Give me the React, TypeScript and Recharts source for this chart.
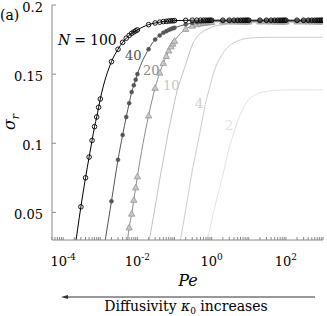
import React from 'react'
import { LineChart, Line, XAxis, YAxis } from 'recharts'

// Pe grid (k x 10^m)
const pe = [
  0.0002, 0.0003, 0.0004, 0.0005, 0.0006, 0.0007, 0.0008, 0.0009,
  0.001, 0.002, 0.003, 0.004, 0.005, 0.006, 0.007, 0.008, 0.009,
  0.01, 0.02, 0.03, 0.04, 0.05, 0.06, 0.07, 0.08, 0.09,
  0.1, 0.2, 0.3, 0.4, 0.5, 0.6, 0.7, 0.8, 0.9,
  1, 2, 3, 4, 5, 6, 7, 8, 9,
  10, 20, 30, 40, 50, 60, 70, 80, 90,
  100, 200, 300, 400, 500, 600, 700, 800, 900,
  1000,
]

const sigmaN100 = [
  0.021, 0.054, 0.075, 0.09, 0.102, 0.112, 0.119, 0.126,
  0.132, 0.159, 0.168, 0.173, 0.176, 0.178, 0.1795, 0.1805, 0.1813,
  0.182, 0.1858, 0.187, 0.1876, 0.188, 0.1882, 0.1884, 0.1885, 0.1886,
  0.1887, 0.1889, 0.189, 0.189, 0.189, 0.189, 0.189, 0.189, 0.189,
  0.189, 0.189, 0.189, 0.189, 0.189, 0.189, 0.189, 0.189, 0.189,
  0.189, 0.189, 0.189, 0.189, 0.189, 0.189, 0.189, 0.189, 0.189,
  0.189, 0.189, 0.189, 0.189, 0.189, 0.189, 0.189, 0.189, 0.189,
  0.189,
]

const sigmaN40 = [
  null, null, null, null, null, null, null, null,
  0.008, 0.058, 0.088, 0.106, 0.119, 0.129, 0.137, 0.142, 0.146,
  0.15, 0.168, 0.175, 0.178, 0.18, 0.181, 0.182, 0.1826, 0.1831,
  0.1835, 0.186, 0.187, 0.1875, 0.1878, 0.188, 0.1882, 0.1883, 0.1884,
  0.1885, 0.1885, 0.1885, 0.1885, 0.1885, 0.1885, 0.1885, 0.1885, 0.1885,
  0.1885, 0.1885, 0.1885, 0.1885, 0.1885, 0.1885, 0.1885, 0.1885, 0.1885,
  0.1885, 0.1885, 0.1885, 0.1885, 0.1885, 0.1885, 0.1885, 0.1885, 0.1885,
  0.1885,
]

const sigmaN20 = [
  null, null, null, null, null, null, null, null,
  null, null, null, null, 0.022, 0.039, 0.049, 0.059, 0.068,
  0.076, 0.12, 0.14, 0.151, 0.158, 0.163, 0.167, 0.17, 0.172,
  0.174, 0.1826, 0.185, 0.186, 0.1865, 0.187, 0.1872, 0.1874, 0.1876,
  0.1877, 0.188, 0.188, 0.188, 0.188, 0.188, 0.188, 0.188, 0.188,
  0.188, 0.188, 0.188, 0.188, 0.188, 0.188, 0.188, 0.188, 0.188,
  0.188, 0.188, 0.188, 0.188, 0.188, 0.188, 0.188, 0.188, 0.188,
  0.188,
]

const sigmaN10 = [
  null, null, null, null, null, null, null, null,
  null, null, null, null, null, null, null, null, null,
  null, 0.027, 0.054, 0.074, 0.088, 0.1, 0.11, 0.117, 0.124,
  0.13, 0.157, 0.171, 0.177, 0.1795, 0.181, 0.182, 0.1828, 0.1834,
  0.184, 0.1858, 0.1866, 0.187, 0.1872, 0.1873, 0.1874, 0.1874, 0.1875,
  0.1875, 0.1875, 0.1875, 0.1875, 0.1875, 0.1875, 0.1875, 0.1875, 0.1875,
  0.1875, 0.1875, 0.1875, 0.1875, 0.1875, 0.1875, 0.1875, 0.1875, 0.1875,
  0.1875,
]

const sigmaN4 = [
  null, null, null, null, null, null, null, null,
  null, null, null, null, null, null, null, null, null,
  null, null, null, null, null, null, null, null, null,
  0.006, 0.052, 0.08, 0.097, 0.11, 0.121, 0.13, 0.136, 0.141,
  0.146, 0.165, 0.1705, 0.1728, 0.174, 0.1748, 0.1753, 0.1756, 0.1758,
  0.176, 0.1765, 0.1766, 0.1766, 0.1766, 0.1766, 0.1766, 0.1766, 0.1766,
  0.1766, 0.1766, 0.1766, 0.1766, 0.1766, 0.1766, 0.1766, 0.1766, 0.1766,
  0.1766,
]

const sigmaN2 = [
  null, null, null, null, null, null, null, null,
  null, null, null, null, null, null, null, null, null,
  null, null, null, null, null, null, null, null, null,
  null, null, null, null, 0.012, 0.02, 0.027, 0.033, 0.038,
  0.044, 0.077, 0.097, 0.108, 0.116, 0.121, 0.125, 0.128, 0.13,
  0.1315, 0.1365, 0.1375, 0.138, 0.1382, 0.1383, 0.1384, 0.1385, 0.1385,
  0.1386, 0.1386, 0.1386, 0.1386, 0.1386, 0.1386, 0.1386, 0.1386, 0.1386,
  0.1386,
]

const yTicks = [0.05, 0.1, 0.15, 0.2]
const xLabelled = [0.0001, 0.01, 1, 100]
const xTicks = [0.00005, 0.00006, 0.00007, 0.00008, 0.00009, 0.0001, ...pe]

const rows = pe.map((p, i) => ({
  pe: p,
  n100: sigmaN100[i],
  n40: sigmaN40[i],
  n20: sigmaN20[i],
  n10: sigmaN10[i],
  n4: sigmaN4[i],
  n2: sigmaN2[i],
}))

const FONT = 'DejaVu Serif'
const AXIS = '#8a8a8a'

const PeTick = (props: any) => {
  const { x, y, payload } = props
  const v = payload.value
  if (!xLabelled.some((m) => Math.abs(m - v) / m < 1e-6)) return <g />
  const exp = Math.round(Math.log10(v))
  return (
    <text x={x} y={y + 12} textAnchor="middle" fontSize={13} fontFamily={FONT} fill="#000">
      10<tspan dy={-6} fontSize={9}>{exp}</tspan>
    </text>
  )
}

const Triangle = (props: any) => {
  const { cx, cy, key } = props
  if (cx == null || cy == null) return <g key={key} />
  const s = 3.2
  return (
    <path
      key={key}
      d={`M${cx},${cy - s}L${cx + s},${cy + s * 0.75}L${cx - s},${cy + s * 0.75}Z`}
      fill="#c8c8c8"
      stroke="#969696"
      strokeWidth={0.8}
    />
  )
}

export default function App() {
  return (
    <div style={{ position: 'absolute', left: 0, top: 0, width: 327, height: 316, background: '#fff' }}>
      <LineChart width={327} height={316} data={rows} margin={{ top: 5, right: 4, bottom: 0, left: 0 }}>
        <XAxis
          dataKey="pe"
          type="number"
          scale="log"
          domain={[0.00005, 1000]}
          allowDataOverflow
          ticks={xTicks}
          interval={0}
          tickSize={-3}
          tickMargin={17}
          height={76}
          stroke={AXIS}
          tick={<PeTick />}
        />
        <XAxis
          xAxisId="top"
          orientation="top"
          dataKey="pe"
          type="number"
          scale="log"
          domain={[0.00005, 1000]}
          allowDataOverflow
          ticks={xTicks}
          interval={0}
          tickSize={-3}
          height={0}
          stroke={AXIS}
          tick={() => <g />}
        />
        <YAxis
          type="number"
          domain={[0.03, 0.2]}
          allowDataOverflow
          ticks={yTicks}
          interval={0}
          tickSize={-4}
          tickMargin={13}
          width={52}
          stroke={AXIS}
          tick={{ fill: '#000', fontSize: 13, fontFamily: FONT, dy: 2 }}
        />
        <YAxis
          yAxisId="right"
          orientation="right"
          type="number"
          domain={[0.03, 0.2]}
          allowDataOverflow
          ticks={yTicks}
          interval={0}
          tickSize={-4}
          width={0}
          stroke={AXIS}
          tick={() => <g />}
        />
        <Line dataKey="n2" type="monotone" stroke="#e4e4e4" strokeWidth={1} dot={false} isAnimationActive={false} />
        <Line dataKey="n4" type="monotone" stroke="#d3ccc4" strokeWidth={1} dot={false} isAnimationActive={false} />
        <Line dataKey="n10" type="monotone" stroke="#c2c2c2" strokeWidth={1} dot={false} isAnimationActive={false} />
        <Line
          dataKey="n20"
          type="monotone"
          stroke="#8c8c8c"
          strokeWidth={1}
          dot={Triangle}
          isAnimationActive={false}
        />
        <Line
          dataKey="n40"
          type="monotone"
          stroke="#555"
          strokeWidth={1}
          dot={{ r: 2, fill: '#555', stroke: '#555', strokeWidth: 0.5 }}
          isAnimationActive={false}
        />
        <Line
          dataKey="n100"
          type="monotone"
          stroke="#000"
          strokeWidth={1}
          dot={{ r: 2.3, fill: 'none', stroke: '#000', strokeWidth: 0.9 }}
          isAnimationActive={false}
        />
      </LineChart>
      <svg width={327} height={316} style={{ position: 'absolute', left: 0, top: 0, pointerEvents: 'none' }} fontFamily={FONT}>
        <text x={0} y={20} fontSize={14} fill="#000">(a)</text>
        <text x={58} y={45} fontSize={14} fill="#000">
          <tspan fontStyle="italic">N</tspan><tspan dx={4}>=</tspan><tspan dx={4}>100</tspan>
        </text>
        <text x={125} y={60} fontSize={13} fill="#555">40</text>
        <text x={143} y={75} fontSize={13} fill="#8c8c8c">20</text>
        <text x={163} y={90} fontSize={13} fill="#c8c8c8">10</text>
        <text x={195} y={108} fontSize={13} fill="#d3ccc4">4</text>
        <text x={225} y={130} fontSize={13} fill="#e2e2e2">2</text>
        <text transform="translate(15,122) rotate(-90)" textAnchor="middle" fontSize={16} fill="#000" fontStyle="italic">
          σ<tspan dy={4} fontSize={11}>r</tspan>
        </text>
        <text x={188} y={286} textAnchor="middle" fontSize={16} fontStyle="italic" fill="#000">Pe</text>
        <line x1={66} y1={297} x2={315} y2={297} stroke="#333" strokeWidth={1} />
        <path d="M61,297 L68,295 L68,299 Z" fill="#333" />
        <text x={186} y={311} textAnchor="middle" fontSize={14} fill="#000">
          Diffusivity <tspan fontStyle="italic">κ</tspan><tspan dy={3} fontSize={9}>0</tspan><tspan dy={-3}> increases</tspan>
        </text>
      </svg>
    </div>
  )
}
